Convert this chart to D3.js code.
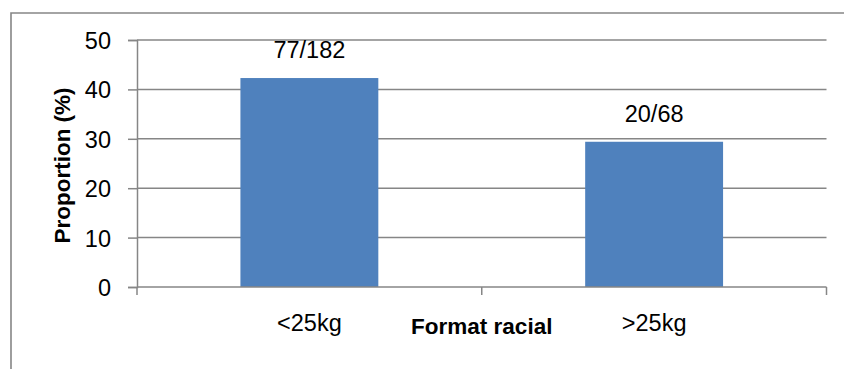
<!DOCTYPE html>
<html>
<head>
<meta charset="utf-8">
<script src="https://cdn.jsdelivr.net/npm/d3@7"></script>
<style>
  html, body { margin: 0; padding: 0; background: #fff; }
  svg { display: block; font-family: "Liberation Sans", Arial, sans-serif; }
</style>
</head>
<body>
<svg id="chart" width="844" height="369"></svg>
<script>
// Proportion by weight class, with the raw counts shown over each bar
const categories = ["<25kg", ">25kg"];
const counts = ["77/182", "20/68"];
const proportions = [42.3, 29.4];
const yTicks = [0, 10, 20, 30, 40, 50];
const yTitle = "Proportion (%)";
const xTitle = "Format racial";

const svg = d3.select("#chart");
const gridColor = "#868686";
const labelSize = 23.5;

// Chart frame
svg.append("path")
  .attr("d", "M11,369 L11,13 L844,13")
  .attr("fill", "none")
  .attr("stroke", gridColor)
  .attr("stroke-width", 1.6);

const plot = { left: 137, right: 826.5, top: 40, bottom: 287 };

const x = d3.scaleBand()
  .domain(categories)
  .range([plot.left, plot.right])
  .paddingInner(0.6)
  .paddingOuter(0.3);

const xCat = d3.scaleBand()
  .domain(categories)
  .range([plot.left, plot.right]);

const y = d3.scaleLinear()
  .domain([0, 50])
  .range([plot.bottom, plot.top]);

// Horizontal gridlines
svg.append("g")
  .selectAll("line")
  .data(yTicks.filter(t => t > 0))
  .join("line")
  .attr("x1", plot.left)
  .attr("x2", plot.right)
  .attr("y1", d => y(d))
  .attr("y2", d => y(d))
  .attr("stroke", gridColor)
  .attr("stroke-width", 1.5);

// Y axis
const yAxis = svg.append("g")
  .attr("transform", `translate(${plot.left},0)`)
  .call(d3.axisLeft(y).tickValues(yTicks).tickSize(9).tickPadding(17));
yAxis.select(".domain").attr("stroke", gridColor).attr("stroke-width", 1.5);
yAxis.selectAll(".tick line").attr("stroke", gridColor).attr("stroke-width", 1.5);
yAxis.selectAll(".tick text")
  .attr("font-size", labelSize)
  .attr("fill", "#000")
  .attr("dy", "0.36em")
  .attr("font-family", "Liberation Sans, Arial, sans-serif");

// Bars
svg.append("g")
  .selectAll("rect")
  .data(proportions)
  .join("rect")
  .attr("x", (d, i) => x(categories[i]))
  .attr("width", x.bandwidth())
  .attr("y", d => y(d))
  .attr("height", d => y(0) - y(d))
  .attr("fill", "#4F81BD");

// X axis with category boundary ticks
const xAxisG = svg.append("g");
xAxisG.append("line")
  .attr("x1", plot.left).attr("x2", plot.right)
  .attr("y1", y(0)).attr("y2", y(0))
  .attr("stroke", gridColor).attr("stroke-width", 1.5);
const boundaries = categories.map(c => xCat(c)).concat([xCat.range()[1]]);
xAxisG.selectAll("line.tick")
  .data(boundaries)
  .join("line")
  .attr("class", "tick")
  .attr("x1", d => d).attr("x2", d => d)
  .attr("y1", y(0)).attr("y2", y(0) + 8)
  .attr("stroke", gridColor).attr("stroke-width", 1.5);

// Category labels
svg.append("g")
  .selectAll("text")
  .data(categories)
  .join("text")
  .attr("x", d => xCat(d) + xCat.bandwidth() / 2)
  .attr("y", 331)
  .attr("text-anchor", "middle")
  .attr("font-size", labelSize)
  .text(d => d);

// Count labels above bars
svg.append("g")
  .selectAll("text")
  .data(proportions)
  .join("text")
  .attr("x", (d, i) => x(categories[i]) + x.bandwidth() / 2)
  .attr("y", d => y(d) - 20)
  .attr("text-anchor", "middle")
  .attr("font-size", labelSize)
  .text((d, i) => counts[i]);

// Axis titles
svg.append("text")
  .attr("x", (plot.left + plot.right) / 2)
  .attr("y", 334)
  .attr("text-anchor", "middle")
  .attr("font-size", 22.5)
  .attr("font-weight", "bold")
  .text(xTitle);

svg.append("text")
  .attr("transform", `translate(70,${(plot.top + plot.bottom) / 2 + 2}) rotate(-90)`)
  .attr("text-anchor", "middle")
  .attr("font-size", 22.5)
  .attr("font-weight", "bold")
  .text(yTitle);
</script>
</body>
</html>
